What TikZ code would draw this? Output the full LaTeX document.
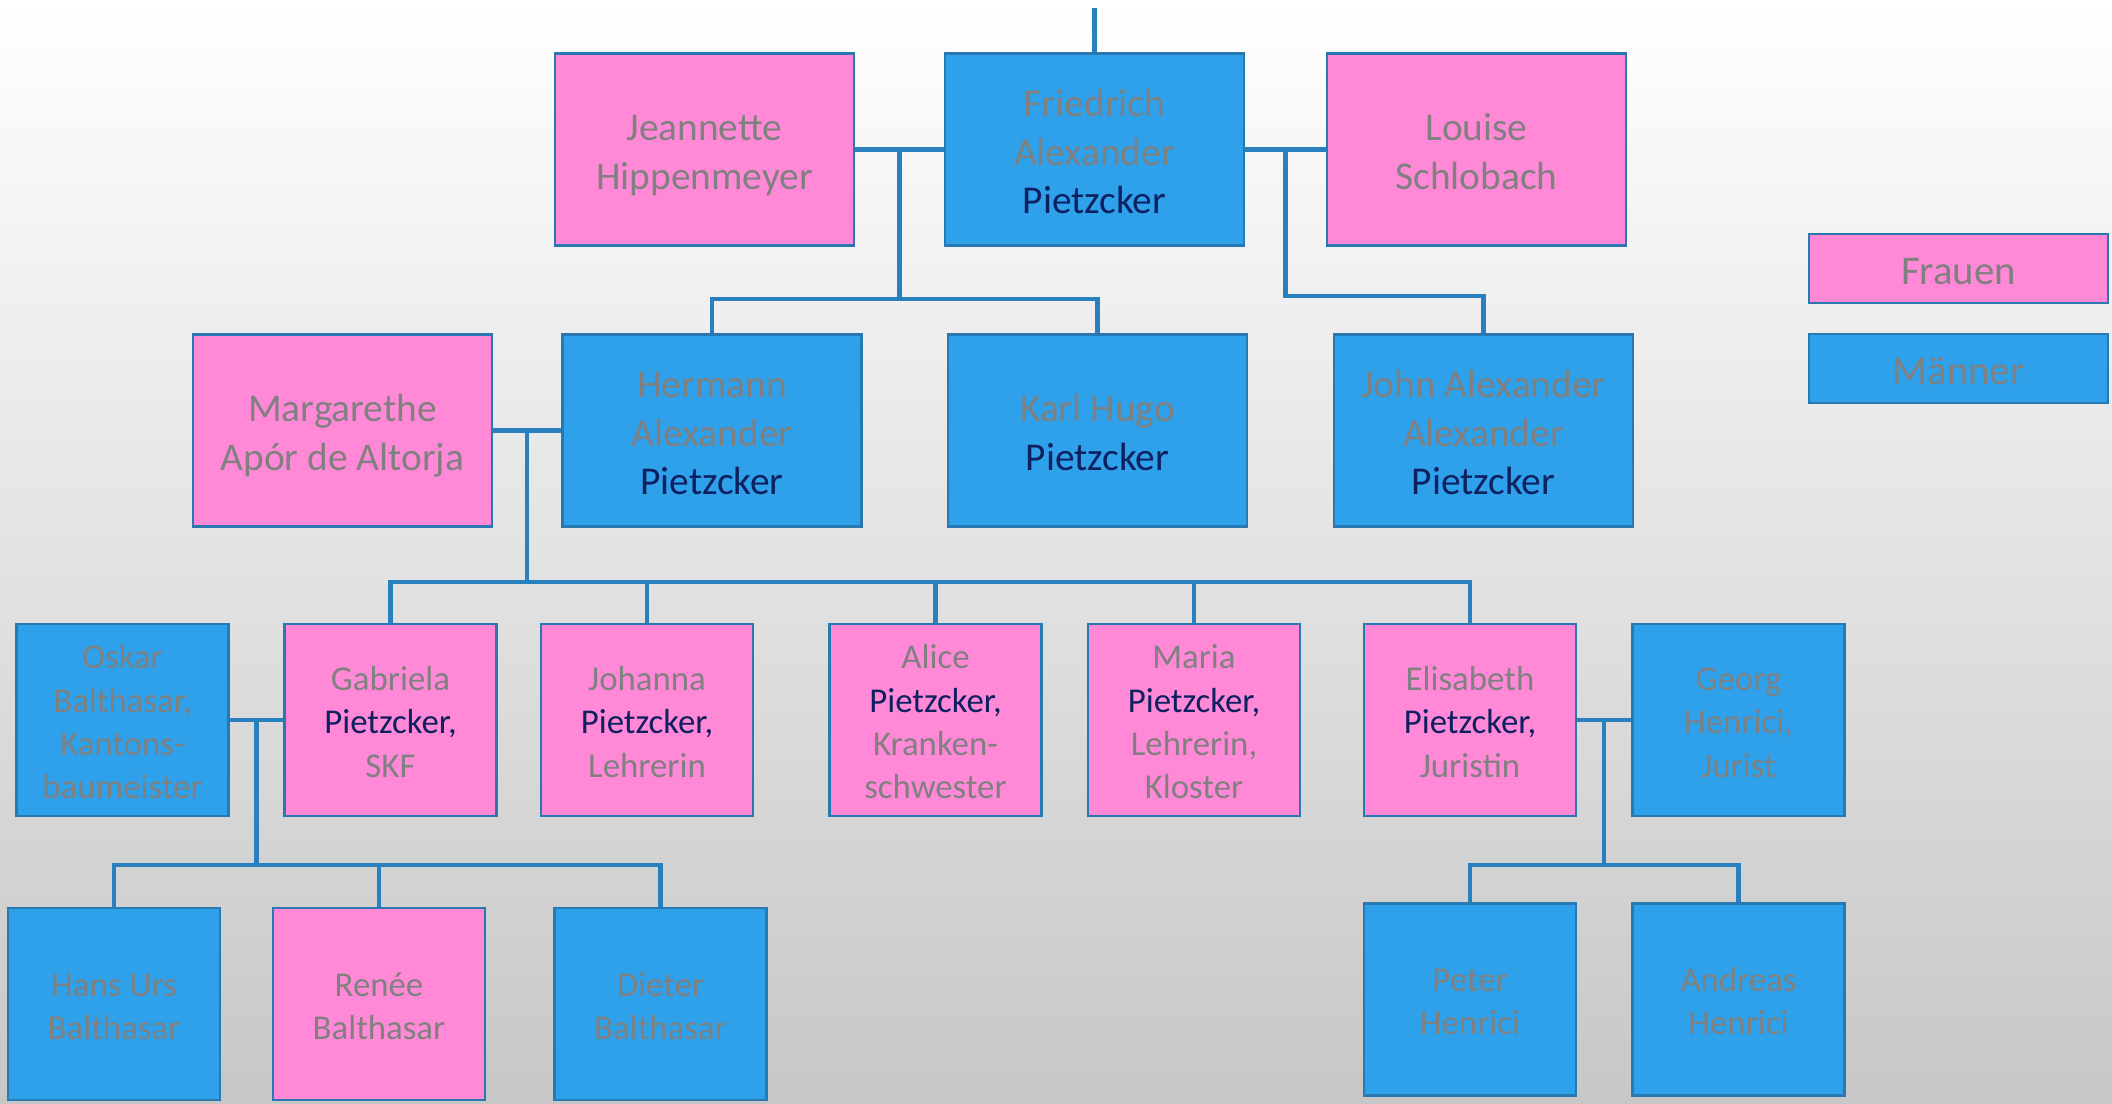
\documentclass[tikz,border=0pt]{standalone}
\usepackage{fontspec}
\setmainfont{Carlito}
\usetikzlibrary{calc}
\definecolor{rosa}{RGB}{255,137,214}
\definecolor{blau}{RGB}{46,161,234}
\definecolor{rand}{RGB}{41,120,178}
\definecolor{strich}{RGB}{40,128,190}
\definecolor{grau}{RGB}{128,128,128}
\definecolor{navy}{RGB}{14,32,96}
\newcommand{\nam}[1]{\textcolor{navy}{#1}}
\newcommand{\z}{\rule[-0.18\baselineskip]{0pt}{\baselineskip}}
\tikzset{
	box/.style={draw=rand, line width=0.75pt, inner sep=0pt, align=center, text=grau},
	frau/.style={box, fill=rosa},
	mann/.style={box, fill=blau},
	gross/.style={minimum width=2.99cm, minimum height=1.92cm, font=\fontsize{11.2}{13.8}\selectfont},
	klein/.style={minimum width=2.12cm, minimum height=1.92cm, font=\fontsize{9.9}{12.3}\selectfont},
	legende/.style={minimum width=2.99cm, minimum height=0.69cm, font=\fontsize{11.6}{14}\selectfont},
	linie/.style={draw=strich, line width=1.2pt}
}
\begin{document}
\begin{tikzpicture}[x=0.01cm, y=-0.01cm]
			%%%%% HINTERGRUND %%%%%
			\shade[top color=white, bottom color=black!22] (0,0) rectangle (2112,1104);
			
			%%%%% GENERATION 1 %%%%%
			\node[frau, gross] (jea) at (704.5, 149.5) {\z Jeannette\\\z Hippenmeyer};
			\node[mann, gross] (fri) at (1094.5, 149.5) {\z Friedrich\\Alexander\\\z\nam{Pietzcker}};
			\node[frau, gross] (lou) at (1476.5, 149.5) {\z Louise\\\z Schlobach};
			
			%%%%% GENERATION 2 %%%%%
			\node[frau, gross] (mar) at (342.5, 430.5) {\z Margarethe\\\z Apór de Altorja};
			\node[mann, gross] (her) at (712, 430.5) {\z Hermann\\Alexander\\\z\nam{Pietzcker}};
			\node[mann, gross] (kar) at (1097.5, 430.5) {\z Karl Hugo\\\z\nam{Pietzcker}};
			\node[mann, gross] (joh) at (1483.5, 430.5) {\z John Alexander\\Alexander\\\z\nam{Pietzcker}};
			
			%%%%% GENERATION 3 %%%%%
			\node[mann, klein] (osk) at (122.5, 720) {\z Oskar\\Balthasar,\\Kantons-\\\z baumeister};
			\node[frau, klein] (gab) at (390.5, 720) {\z Gabriela\\\nam{Pietzcker,}\\\z SKF};
			\node[frau, klein] (jon) at (647, 720) {\z Johanna\\\nam{Pietzcker,}\\\z Lehrerin};
			\node[frau, klein] (ali) at (935.5, 720) {\z Alice\\\nam{Pietzcker,}\\Kranken-\\\z schwester};
			\node[frau, klein] (mari) at (1194, 720) {\z Maria\\\nam{Pietzcker,}\\Lehrerin,\\\z Kloster};
			\node[frau, klein] (eli) at (1470, 720) {\z Elisabeth\\\nam{Pietzcker,}\\\z Juristin};
			\node[mann, klein] (geo) at (1738.5, 720) {\z Georg\\Henrici,\\\z Jurist};
			
			%%%%% GENERATION 4 %%%%%
			\node[mann, klein] (han) at (114, 1004) {\z Hans Urs\\\z Balthasar};
			\node[frau, klein] (ren) at (379, 1004) {\z Renée\\\z Balthasar};
			\node[mann, klein] (die) at (660.5, 1004) {\z Dieter\\\z Balthasar};
			\node[mann, klein] (pet) at (1470, 999.5) {\z Peter\\\z Henrici};
			\node[mann, klein] (and) at (1738.5, 999.5) {\z Andreas\\\z Henrici};
			
			%%%%% LEGENDE %%%%%
			\node[frau, legende] (fra) at (1958.5, 268.5) {\z Frauen};
			\node[mann, legende] (mae) at (1958.5, 368.5) {\z Männer};
			
			%%%%% LINIEN %%%%%
			\coordinate (oben) at (fri.north |- 0,8);
			\draw[linie] (oben) -- (fri.north);
			
			\draw[linie] (jea.east) -- (fri.west);
			\coordinate (m1) at ($(jea.east)!0.5!(fri.west)$);
			\coordinate (b1) at (m1 |- 0,299);
			\draw[linie] (m1) -- (b1);
			\draw[linie] (her.north) |- (b1) -| (kar.north);
			
			\draw[linie] (fri.east) -- (lou.west);
			\coordinate (m2) at ($(fri.east)!0.5!(lou.west)$);
			\coordinate (b2) at (m2 |- 0,296);
			\draw[linie] (m2) -- (b2) -| (joh.north);
			
			\draw[linie] (mar.east) -- (her.west);
			\coordinate (m3) at ($(mar.east)!0.5!(her.west)$);
			\coordinate (b3) at (m3 |- 0,582);
			\draw[linie] (m3) -- (b3);
			\draw[linie] (gab.north) |- (b3) -| (eli.north);
			\draw[linie] (jon.north) -- (jon.north |- b3);
			\draw[linie] (ali.north) -- (ali.north |- b3);
			\draw[linie] (mari.north) -- (mari.north |- b3);
			
			\draw[linie] (osk.east) -- (gab.west);
			\coordinate (m4) at ($(osk.east)!0.5!(gab.west)$);
			\coordinate (b4) at (m4 |- 0,865);
			\draw[linie] (m4) -- (b4);
			\draw[linie] (han.north) |- (b4) -| (die.north);
			\draw[linie] (ren.north) -- (ren.north |- b4);
			
			\draw[linie] (eli.east) -- (geo.west);
			\coordinate (m5) at ($(eli.east)!0.5!(geo.west)$);
			\coordinate (b5) at (m5 |- 0,865);
			\draw[linie] (m5) -- (b5);
			\draw[linie] (pet.north) |- (b5) -| (and.north);
\end{tikzpicture}
\end{document}
